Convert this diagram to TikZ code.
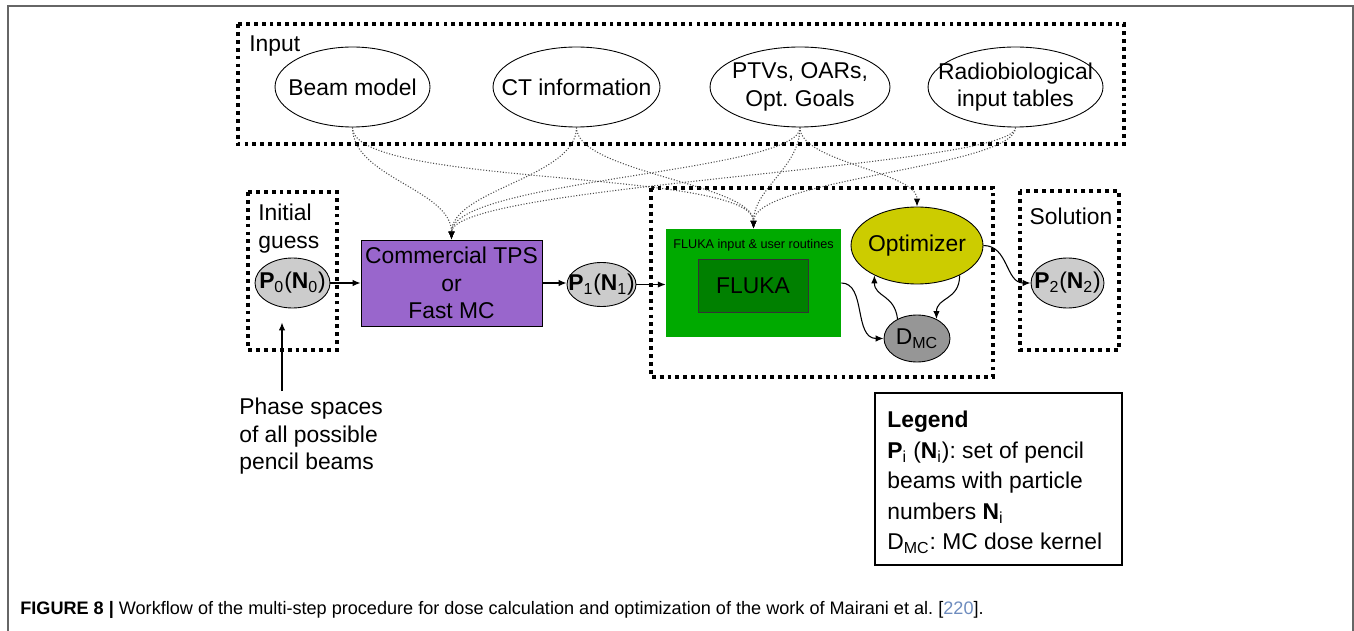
\documentclass[tikz,border=0pt]{standalone}
\usepackage{fontspec}
\setmainfont{Liberation Sans}
\usetikzlibrary{shapes.geometric,arrows.meta}
\definecolor{tpspurple}{RGB}{153,102,204}
\definecolor{flukagreen}{RGB}{0,170,0}
\definecolor{flukadark}{RGB}{0,128,0}
\definecolor{optyellow}{RGB}{204,204,0}
\definecolor{pgray}{RGB}{204,204,204}
\definecolor{dmcgray}{RGB}{150,150,150}
\definecolor{citeblue}{RGB}{110,140,190}
\newcommand{\pset}[1]{\textbf{P}\textsubscript{#1}(\textbf{N}\textsubscript{#1})}
\frenchspacing

\begin{document}
\begin{tikzpicture}[x=0.02cm, y=0.02cm]
		\tikzstyle{every node}+=[inner sep=0pt, font=\fontsize{13}{15.6}\selectfont]
		\tikzstyle{blob}=[ellipse, draw=black, line width=0.5pt]
		\tikzstyle{groupbox}=[black, line width=2.2pt, dash pattern=on 2.2pt off 2.3pt]
		\tikzstyle{feed}=[black!70, line width=0.6pt, densely dotted, -{Latex[black, length=4.5pt, width=3.6pt]}]
		\tikzstyle{flow}=[black, line width=0.6pt, -{Latex[length=4.5pt, width=3.6pt]}]
		\useasboundingbox (0,0) rectangle (1354,-631);
		\draw [black!60, line width=1pt] (8,-631) -- (8,-6) -- (1353,-6) -- (1353,-631);
		\draw [groupbox] (238,-24) rectangle (1124,-144);
		\draw [groupbox] (248,-192) rectangle (337,-350);
		\draw [groupbox] (651,-188) rectangle (993,-377);
		\draw [groupbox] (1020,-191) rectangle (1119,-350);
		\node [anchor=west] (inputlbl) at (249,-46) {Input};
		\node [anchor=north west, align=left] (guesslbl) at (258,-204) {Initial\\guess};
		\node (sollbl) at (1071,-216) {Solution};
		\node [blob, minimum width=3.1cm, minimum height=1.6cm] (beam) at (352.5,-87) {};
		\node at (beam) {Beam model};
		\node [blob, minimum width=3.34cm, minimum height=1.6cm] (ct) at (576.5,-87) {};
		\node at (ct) {CT information};
		\node [blob, minimum width=3.6cm, minimum height=1.6cm] (ptv) at (800,-87) {};
		\node [align=center] at (ptv) {PTVs, OARs,\\Opt. Goals};
		\node [blob, minimum width=3.5cm, minimum height=1.6cm] (radio) at (1015.5,-87) {};
		\node [align=center] at (radio) {Radiobiological\\input tables};
		\node [blob, fill=pgray, minimum width=1.5cm, minimum height=1cm] (p0) at (292.5,-283) {};
		\node at (p0) {\pset{0}};
		\node [draw=black, line width=0.5pt, fill=tpspurple, minimum width=3.62cm, minimum height=1.72cm, align=center] (tps) at (451.5,-283) {Commercial TPS\\or\\Fast MC};
		\node [blob, fill=pgray, minimum width=1.38cm, minimum height=0.88cm] (p1) at (601.5,-284.5) {};
		\node at (p1) {\pset{1}};
		\node [fill=flukagreen, minimum width=3.5cm, minimum height=2.16cm] (fluka) at (753.5,-283) {};
		\node [font=\fontsize{7.2}{8}\selectfont] (flukalbl) at (753.5,-245) {FLUKA input \& user routines};
		\node [draw=black!80, line width=0.5pt, fill=flukadark, minimum width=2.2cm, minimum height=1.06cm] (flukacore) at (753,-285.5) {FLUKA};
		\node [blob, fill=optyellow, minimum width=2.64cm, minimum height=1.54cm] (opt) at (917,-245.5) {};
		\node at (opt) {Optimizer};
		\node [blob, fill=dmcgray, minimum width=1.32cm, minimum height=0.94cm] (dmc) at (917,-338.5) {};
		\node at (dmc) {D\textsubscript{MC}};
		\node [blob, fill=pgray, minimum width=1.46cm, minimum height=1cm] (p2) at (1067.5,-283) {};
		\node at (p2) {\pset{2}};
		\node [anchor=north west, align=left] (phase) at (239,-398) {Phase spaces\\of all possible\\pencil beams};
		\coordinate (pin) at ([xshift=-0.21cm,yshift=-0.28cm]p0.south);
		\coordinate (phasetop) at ([yshift=0.14cm]phase.north);
		\draw [flow] (pin |- phasetop) -- (pin);
		\draw [flow] (p0.east) -- (tps.west);
		\draw [flow] (tps.east) -- (tps.east -| p1.west);
		\draw [flow] (p1.east) -- (p1.east -| fluka.west);
		\draw [feed] (beam.south) .. controls +(0,-50) and +(0,50) .. (tps.north);
		\draw [feed] (beam.south) .. controls +(0,-60) and +(0,60) .. (fluka.north);
		\draw [feed] (ct.south) .. controls +(0,-50) and +(0,50) .. (tps.north);
		\draw [feed] (ct.south) .. controls +(0,-45) and +(0,45) .. (fluka.north);
		\draw [feed] (ptv.south) .. controls +(0,-45) and +(0,60) .. (tps.north);
		\draw [feed] (ptv.south) .. controls +(0,-40) and +(0,40) .. (fluka.north);
		\draw [feed] (ptv.south) .. controls +(0,-35) and +(0,35) .. (opt.north);
		\draw [feed] (radio.south) .. controls +(0,-40) and +(0,55) .. (tps.north);
		\draw [feed] (radio.south) .. controls +(0,-40) and +(0,50) .. (fluka.north);
		\draw [flow] (fluka.east) .. controls +(25,0) and +(-30,0) .. (dmc.west);
		\draw [flow] (dmc.135) .. controls +(-3,25) and +(0,-22) .. (opt.215);
		\draw [flow] (opt.-35) .. controls +(0,-25) and +(0,22) .. (dmc.45);
		\draw [flow] (opt.east) .. controls +(25,0) and +(-25,0) .. (p2.west);
		\node [draw=black, line width=1.5pt, minimum width=4.94cm, minimum height=3.44cm] (legend) at (998.5,-479) {};
		\node [anchor=north west, align=left, font=\fontsize{13}{17.3}\selectfont] (legendtxt) at (887,-411) {\textbf{Legend}\\\textbf{P}\textsubscript{i} (\textbf{N}\textsubscript{i}): set of pencil\\beams with particle\\numbers \textbf{N}\textsubscript{i}\\D\textsubscript{MC}: MC dose kernel};
		\node [anchor=west, font=\fontsize{10.3}{12}\selectfont] (caption) at (20,-610) {\textbf{FIGURE 8 |} Workflow of the multi-step procedure for dose calculation and optimization of the work of Mairani et al. [\textcolor{citeblue}{220}].};
	\end{tikzpicture}
\end{document}
